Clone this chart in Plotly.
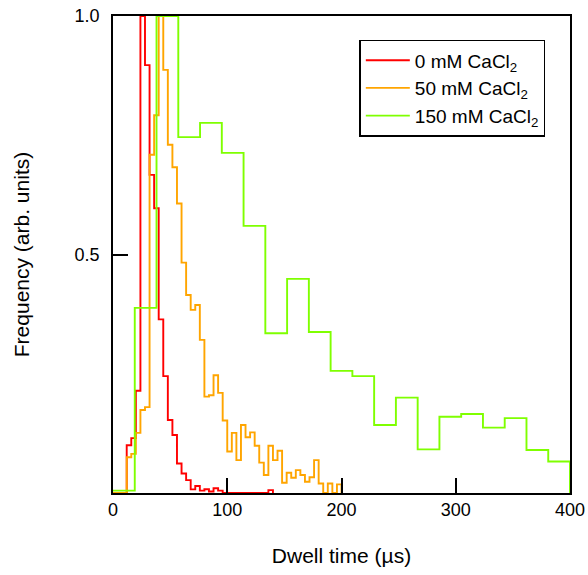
import numpy as np
import plotly.graph_objects as go

# ---- data ----
red_bin_width = 4.0          # µs
red_values = [0, 0, 0, 0.100, 0.115, 0.2145, 1.0, 0.897, 0.667, 0.597,
              0.364, 0.245, 0.153, 0.1216, 0.062, 0.041, 0.027, 0.0077,
              0.0147, 0.005, 0.008, 0.003, 0.010, 0.005, 0, 0, 0, 0, 0,
              0, 0, 0, 0, 0, 0.006]

orange_bin_width = 4.0       # µs
orange_values = [0, 0, 0, 0.075, 0.082, 0.126, 0.174, 0.180, 0.709, 0.792,
                 1.0, 0.887, 0.730, 0.683, 0.607, 0.483, 0.415, 0.384,
                 0.394, 0.321, 0.202, 0.205, 0.247, 0.210, 0.152, 0.087,
                 0.126, 0.069, 0.1426, 0.117, 0.127, 0.099, 0.0636, 0.0377,
                 0.099, 0.069, 0.0887, 0.0216, 0.0426, 0.032, 0.048, 0.0377,
                 0.0237, 0.033, 0.069, 0.020, 0, 0.020, 0, 0.018]

green_bin_width = 400.0 / 21  # µs
green_values = [0.005, 0.388, 1.0, 0.746, 0.776, 0.713, 0.560, 0.335, 0.449,
                0.3375, 0.256, 0.245, 0.1426, 0.200, 0.0915, 0.160, 0.1656,
                0.137, 0.157, 0.090, 0.066]

series_names = ["0 mM CaCl<sub>2</sub>", "50 mM CaCl<sub>2</sub>", "150 mM CaCl<sub>2</sub>"]
series_colors = ["#FF0000", "#FFA500", "#7FFF00"]

x_tick_vals = [0, 100, 200, 300, 400]
y_tick_vals = [0.5, 1.0]
y_tick_text = ["0.5", "1.0"]


def step_xy(values, width):
    n = len(values)
    edges = np.arange(n + 1) * width
    xs = list(edges)
    ys = list(values) + [0.0]
    return xs, ys


fig = go.Figure()
for vals, w, name, col in [
    (red_values, red_bin_width, series_names[0], series_colors[0]),
    (orange_values, orange_bin_width, series_names[1], series_colors[1]),
    (green_values, green_bin_width, series_names[2], series_colors[2]),
]:
    xs, ys = step_xy(vals, w)
    fig.add_trace(go.Scatter(x=xs, y=ys, mode="lines", name=name,
                             line=dict(color=col, width=1.9, shape="hv")))

font_family = "Liberation Sans, Arial, sans-serif"

fig.update_layout(
    width=588, height=575,
    margin=dict(l=113, r=18, t=16, b=82, autoexpand=False),
    paper_bgcolor="white", plot_bgcolor="white",
    font=dict(family=font_family, size=17.5, color="black"),
    showlegend=True,
    legend=dict(x=0.539, y=0.95, xanchor="left", yanchor="top",
                bordercolor="black", borderwidth=1.5, bgcolor="white",
                font=dict(size=19), itemwidth=44, tracegroupgap=0),
)
fig.update_xaxes(
    range=[0, 400], tickvals=x_tick_vals, ticks="inside", ticklen=15,
    tickwidth=1.5, tickcolor="black", showline=True, linecolor="black",
    linewidth=1.5, mirror=True, showgrid=False, zeroline=False,
    automargin=False, tickfont=dict(size=18),
    title=dict(text="Dwell time (µs)", standoff=29),
)
fig.update_yaxes(
    range=[0, 1], tickvals=y_tick_vals, ticktext=y_tick_text, ticks="inside",
    ticklen=15, tickwidth=1.5, tickcolor="black", showline=True,
    linecolor="black", linewidth=1.5, mirror=True, showgrid=False,
    zeroline=False, ticklabelstandoff=8, automargin=False,
    tickfont=dict(size=18),
    title=dict(text="Frequency (arb. units)", standoff=39),
)

fig.write_html("out.html")
